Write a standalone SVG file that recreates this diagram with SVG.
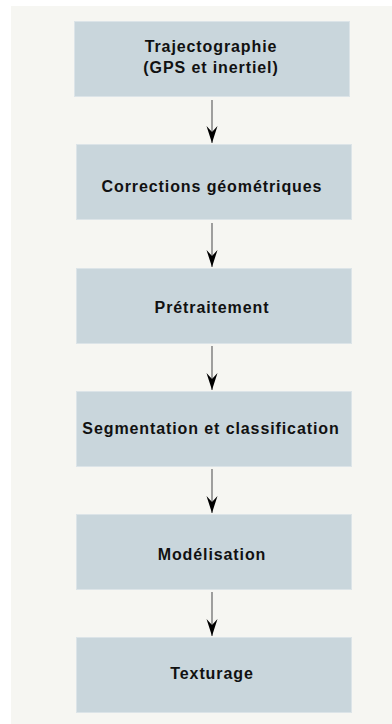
<svg xmlns="http://www.w3.org/2000/svg" width="392" height="724" viewBox="0 0 392 724">
  <style>
    .box { fill: #c9d6dc; stroke: #dce4e8; stroke-width: 1; }
    .lbl { font-family: "Liberation Sans", Arial, sans-serif; font-size: 16px; font-weight: bold; fill: #111111; text-anchor: middle; letter-spacing: 0.9px; }
    .conn { stroke: #7a7a7a; stroke-width: 1.4; fill: none; marker-end: url(#arrow); }
  </style>
  <defs>
    <marker id="arrow" markerUnits="userSpaceOnUse" markerWidth="18" markerHeight="12" viewBox="-17 -6 18 12" refX="0" refY="0" orient="auto">
      <path d="M0,0 L-17,-5.5 L-11,0 L-17,5.5 Z" fill="#000"/>
    </marker>
  </defs>
  <rect x="0" y="0" width="392" height="724" fill="#ffffff"/>
  <rect x="11" y="6" width="381" height="718" fill="#f6f6f2"/>

  <g id="connectors">
    <line class="conn" x1="212" y1="100" x2="212" y2="143"/>
    <line class="conn" x1="212" y1="223" x2="212" y2="267"/>
    <line class="conn" x1="212" y1="346" x2="212" y2="390"/>
    <line class="conn" x1="212" y1="469" x2="212" y2="513"/>
    <line class="conn" x1="212" y1="592" x2="212" y2="636"/>
  </g>

  <g id="n1">
    <rect class="box" x="74.5" y="21.5" width="275" height="75"/>
    <text class="lbl" x="211" y="52">Trajectographie</text>
    <text class="lbl" x="211" y="73">(GPS et inertiel)</text>
  </g>
  <g id="n2">
    <rect class="box" x="76.5" y="144.5" width="275" height="75"/>
    <text class="lbl" x="212" y="192">Corrections géométriques</text>
  </g>
  <g id="n3">
    <rect class="box" x="76.5" y="268.5" width="275" height="75"/>
    <text class="lbl" x="212" y="313">Prétraitement</text>
  </g>
  <g id="n4">
    <rect class="box" x="76.5" y="391.5" width="275" height="75"/>
    <text class="lbl" x="211" y="434">Segmentation et classification</text>
  </g>
  <g id="n5">
    <rect class="box" x="76.5" y="514.5" width="275" height="75"/>
    <text class="lbl" x="212" y="560">Modélisation</text>
  </g>
  <g id="n6">
    <rect class="box" x="76.5" y="637.5" width="275" height="75"/>
    <text class="lbl" x="212" y="679">Texturage</text>
  </g>
</svg>
